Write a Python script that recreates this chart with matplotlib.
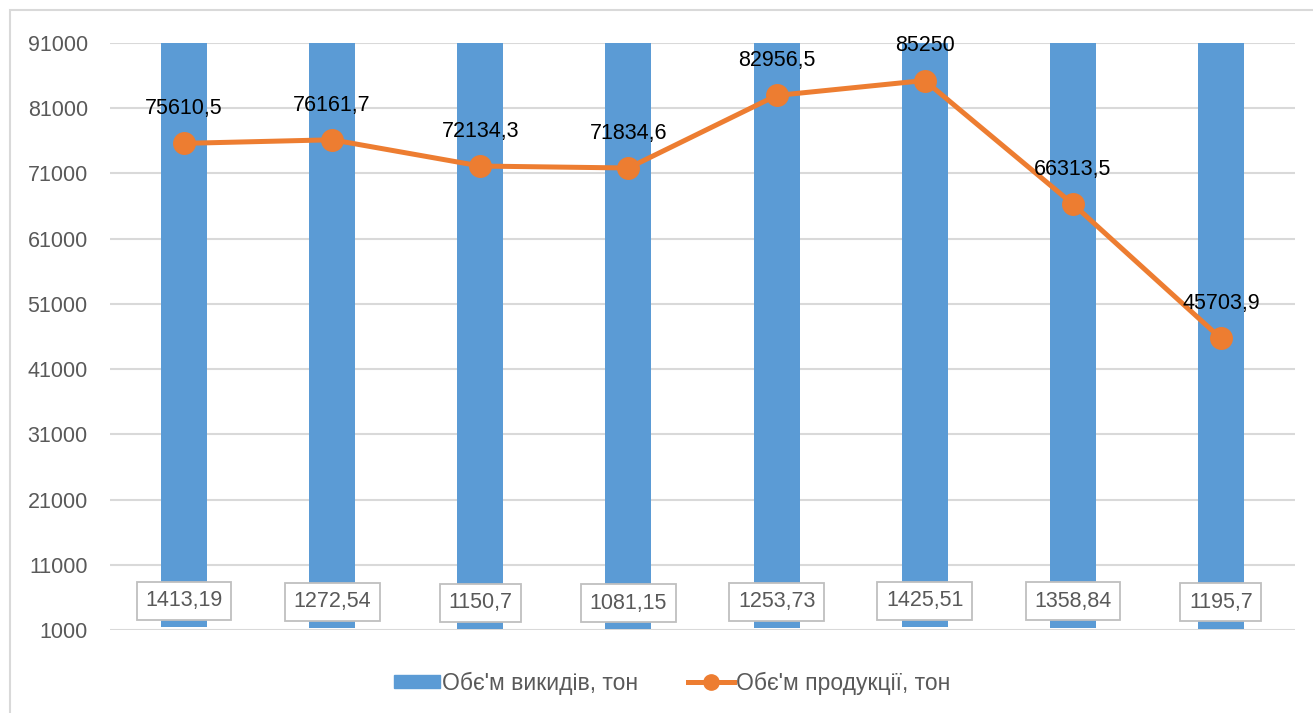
import matplotlib.pyplot as plt
from matplotlib.patches import Rectangle
from matplotlib.lines import Line2D
from matplotlib.patches import Patch

plt.rcParams['font.family'] = ['Liberation Sans', 'DejaVu Sans']

# data
years = ['1', '2', '3', '4', '5', '6', '7', '8']
emissions = [1413.19, 1272.54, 1150.7, 1081.15, 1253.73, 1425.51, 1358.84, 1195.7]
production = [75610.5, 76161.7, 72134.3, 71834.6, 82956.5, 85250, 66313.5, 45703.9]
yticks = [1000, 11000, 21000, 31000, 41000, 51000, 61000, 71000, 81000, 91000]

bar_color = '#5B9BD5'
line_color = '#ED7D31'
grid_color = '#D9D9D9'
text_gray = '#595959'
fs = 15.5

def fmt(v):
    return f'{v:g}'.replace('.', ',')

fig = plt.figure(figsize=(13.13, 7.13), dpi=100)
ax = fig.add_axes([110/1313, 1 - 630/713, 1185/1313, 587/713])

ymin, ymax = yticks[0], yticks[-1]
ax.set_ylim(ymin, ymax)
ax.set_xlim(-0.5, len(years) - 0.5)

# horizontal axis crosses at the maximum, so bars hang from the top
x = range(len(years))
bars = ax.bar(x, [ymax - v for v in emissions], bottom=emissions, width=0.31,
              color=bar_color, zorder=2)

ax.plot(x, production, color=line_color, lw=3.6, marker='o', markersize=15.5,
        zorder=4, solid_capstyle='round')

for i, v in enumerate(production):
    ax.annotate(fmt(v), (i, v), xytext=(0, 25), textcoords='offset points',
                ha='center', va='center', fontsize=fs, color='black', zorder=5)

for i, v in enumerate(emissions):
    ax.annotate(fmt(v), (i, v), xytext=(0, 19), textcoords='offset points',
                ha='center', va='center', fontsize=fs, color=text_gray, zorder=5,
                bbox=dict(boxstyle='square,pad=0.4', fc='white', ec='#BFBFBF', lw=1.3))

ax.set_yticks(yticks)
ax.set_yticklabels([str(t) for t in yticks])
ax.tick_params(axis='y', length=0, pad=16, labelsize=fs, labelcolor=text_gray)
ax.set_xticks([])
ax.grid(axis='y', color=grid_color, lw=1.5, zorder=0)
ax.set_axisbelow(True)
for s in ax.spines.values():
    s.set_visible(False)

# chart frame
fig.patches.append(Rectangle((10/1313, -0.1), 1.2, 1.1 - 10/713, transform=fig.transFigure,
                             fill=False, ec=grid_color, lw=1.5))

handles = [Patch(color=bar_color),
           Line2D([], [], color=line_color, lw=3.6, marker='o', markersize=11)]
fig.legend(handles, ["Обє'м викидів, тон", "Обє'м продукції, тон"],
           loc='center', bbox_to_anchor=(0.512, 1 - 683/713), ncol=2, frameon=False,
           fontsize=16.5, labelcolor=text_gray, handlelength=2.0, handletextpad=0.1,
           columnspacing=2.2, handleheight=0.55)

fig.savefig('out.png', dpi=100)
